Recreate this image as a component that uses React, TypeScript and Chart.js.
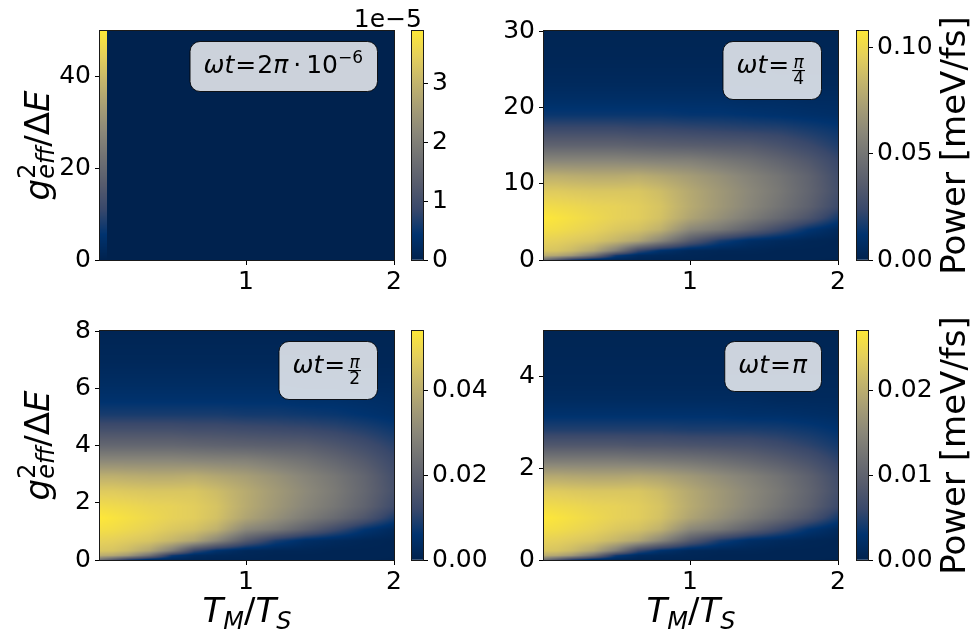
import React, { useEffect, useRef } from 'react';
import { Chart, registerables } from 'chart.js';

Chart.register(...registerables);

// ---------------- data ----------------
// x axis: T_M / T_S, y axis: g_eff^2 / ΔE, colour: power as % of the colour-bar top value
const xRange = [0.013, 2];
const xTicks = [1, 2];

// panel ωt = 2π·10^-6
const xNodesA = [0, 0.058, 0.063, 2.0];
const yNodesA = [50, 40, 30, 20, 10, 0];
const powerPctA = [
  [100, 100, 0, 0],
  [80, 80, 0, 0],
  [60, 60, 0, 0],
  [40, 40, 0, 0],
  [20, 20, 0, 0],
  [0, 0, 0, 0],
];
const yMaxA = 50;
const yTicksA = [0, 20, 40];
const cbarMaxA = 3.89e-5;
const cbarTicksA = [0, 1e-5, 2e-5, 3e-5];

// shared x sampling of the three other panels
const xNodesSim = [0, 0.1, 0.2, 0.35, 0.5, 0.65, 0.8, 1.0, 1.2, 1.4, 1.6, 1.8, 2.0];

// panel ωt = π/4
const yNodesB = [30, 26, 23, 21, 19, 17, 15, 13, 11, 9, 7, 5.5, 4, 2.5, 1.2, 0.6, 0];
const powerPctB = [
  [2, 2, 2, 2, 2, 2, 2, 2, 2, 2, 2, 2, 2],
  [3, 3, 3, 3, 3, 3, 3, 3, 3, 3, 3, 3, 3],
  [5, 5, 5, 5, 5, 5, 5, 5, 5, 5, 4, 4, 4],
  [8, 8, 8, 8, 8, 8, 8, 8, 8, 7, 7, 6, 6],
  [13, 13, 13, 13, 13, 13, 13, 12, 12, 11, 10, 9, 8],
  [24, 24, 24, 24, 24, 23, 23, 22, 21, 20, 19, 16, 13],
  [37, 37, 37, 37, 37, 36, 35, 34, 33, 32, 28, 23, 17],
  [55, 55, 55, 55, 55, 54, 53, 52, 48, 44, 38, 31, 22],
  [75, 75, 74, 73, 73, 74, 71, 66, 60, 53, 46, 37, 25],
  [87, 87, 86, 85, 85, 85, 81, 72, 64, 56, 48, 38, 26],
  [95, 94, 93, 91, 90, 88, 84, 73, 64, 55, 46, 36, 23],
  [100, 98, 96, 93, 90, 88, 83, 70, 60, 50, 40, 29, 15],
  [96, 95, 93, 90, 86, 83, 76, 56, 48, 36, 24, 12, 5],
  [90, 89, 87, 84, 78, 70, 55, 32, 16, 8, 5, 3, 2],
  [85, 84, 80, 70, 50, 22, 10, 4, 3, 3, 2, 2, 2],
  [75, 72, 65, 45, 15, 6, 4, 3, 2, 2, 2, 2, 2],
  [45, 30, 15, 5, 3, 2, 2, 2, 2, 2, 2, 2, 1],
];
const yMaxB = 30;
const yTicksB = [0, 10, 20, 30];
const cbarMaxB = 0.108;
const cbarTicksB = [0, 0.05, 0.1];

// panel ωt = π/2
const yNodesC = [8, 6.93, 6.13, 5.6, 5.07, 4.53, 4.0, 3.47, 2.93, 2.4, 1.87, 1.47, 1.07, 0.67, 0.32, 0.16, 0];
const powerPctC = [
  [2, 2, 2, 2, 2, 2, 2, 2, 2, 2, 2, 2, 2],
  [4, 4, 4, 4, 4, 4, 4, 4, 4, 4, 3, 3, 3],
  [7, 7, 7, 7, 7, 7, 7, 7, 7, 6, 6, 5, 5],
  [10, 10, 10, 10, 10, 10, 10, 10, 10, 9, 9, 8, 7],
  [16, 16, 16, 16, 16, 16, 16, 15, 15, 14, 13, 11, 9],
  [27, 27, 27, 27, 27, 26, 26, 25, 24, 23, 21, 18, 14],
  [39, 39, 39, 39, 39, 38, 37, 36, 35, 34, 30, 25, 19],
  [56, 56, 56, 56, 56, 55, 54, 53, 49, 45, 39, 32, 23],
  [75, 75, 74, 73, 73, 74, 71, 67, 61, 54, 47, 38, 26],
  [87, 87, 86, 85, 85, 85, 81, 73, 65, 57, 49, 39, 27],
  [95, 94, 93, 91, 90, 88, 84, 73, 64, 55, 47, 37, 24],
  [100, 98, 96, 93, 90, 88, 83, 70, 60, 50, 41, 30, 16],
  [96, 95, 93, 90, 86, 83, 76, 56, 48, 36, 24, 12, 5],
  [90, 89, 87, 84, 78, 70, 55, 32, 16, 8, 5, 3, 2],
  [85, 84, 80, 70, 50, 22, 10, 4, 3, 3, 2, 2, 2],
  [75, 72, 65, 45, 15, 6, 4, 3, 2, 2, 2, 2, 2],
  [45, 30, 15, 5, 3, 2, 2, 2, 2, 2, 2, 2, 1],
];
const yMaxC = 8;
const yTicksC = [0, 2, 4, 6, 8];
const cbarMaxC = 0.054;
const cbarTicksC = [0, 0.02, 0.04];

// panel ωt = π
const yNodesD = [5, 4.33, 3.83, 3.5, 3.17, 2.83, 2.5, 2.17, 1.83, 1.5, 1.17, 0.92, 0.67, 0.42, 0.2, 0.1, 0];
const powerPctD = [
  [2, 2, 2, 2, 2, 2, 2, 2, 2, 2, 2, 2, 2],
  [3, 3, 3, 3, 3, 3, 3, 3, 3, 3, 3, 3, 3],
  [4, 4, 4, 4, 4, 4, 4, 4, 4, 4, 4, 4, 4],
  [6, 6, 6, 6, 6, 6, 6, 6, 6, 6, 5, 5, 5],
  [10, 10, 10, 10, 10, 10, 10, 10, 10, 9, 9, 8, 7],
  [18, 18, 18, 18, 18, 18, 18, 17, 17, 17, 16, 14, 11],
  [31, 31, 31, 31, 31, 30, 30, 29, 28, 27, 24, 20, 15],
  [50, 50, 50, 50, 50, 49, 48, 46, 43, 39, 34, 28, 20],
  [72, 72, 71, 70, 70, 71, 69, 64, 58, 52, 45, 36, 25],
  [87, 87, 86, 85, 85, 85, 81, 72, 64, 56, 48, 38, 26],
  [95, 94, 93, 91, 90, 88, 84, 73, 64, 55, 46, 36, 23],
  [100, 98, 96, 93, 90, 88, 83, 70, 60, 50, 40, 29, 15],
  [96, 95, 93, 90, 86, 83, 76, 56, 48, 36, 24, 12, 5],
  [90, 89, 87, 84, 78, 70, 55, 32, 16, 8, 5, 3, 2],
  [85, 84, 80, 70, 50, 22, 10, 4, 3, 3, 2, 2, 2],
  [75, 72, 65, 45, 15, 6, 4, 3, 2, 2, 2, 2, 2],
  [45, 30, 15, 5, 3, 2, 2, 2, 2, 2, 2, 2, 1],
];
const yMaxD = 5;
const yTicksD = [0, 2, 4];
const cbarMaxD = 0.027;
const cbarTicksD = [0, 0.01, 0.02];

// cividis colour map stops
const CIVIDIS = [
  [0, 34, 78], [0, 51, 111], [57, 72, 107], [87, 92, 109], [112, 113, 115],
  [138, 135, 121], [166, 157, 117], [196, 181, 108], [228, 207, 91], [254, 232, 56],
];

// ---------------- layout ----------------
const PAGE_W = 975;
const PAGE_H = 636;
const FONT = "'DejaVu Sans', 'Liberation Sans', sans-serif";
const TICK_SIZE = 25;
const LABEL_SIZE = 34;
const SUB_SIZE = 24;
const BOX_SIZE = 25;
const X_AXIS_H = 40;
const Y_AXIS_W = 100;
const CB_AXIS_W = 80;

type Seg = {
  t?: string; size?: number; it?: boolean; dy?: number; gap?: number;
  sup?: Seg; sub?: Seg; num?: Seg; den?: Seg;
};

const it = (t: string, size: number, extra: Partial<Seg> = {}): Seg => ({ t, size, it: true, ...extra });
const up = (t: string, size: number, extra: Partial<Seg> = {}): Seg => ({ t, size, it: false, ...extra });

const yTitleSegs: Seg[] = [
  it('g', LABEL_SIZE),
  { sup: up('2', SUB_SIZE, { dy: -14 }), sub: it('eff', SUB_SIZE, { dy: 5 }) },
  up('/', LABEL_SIZE),
  up('Δ', LABEL_SIZE),
  it('E', LABEL_SIZE),
];
const xTitleSegs: Seg[] = [
  it('T', LABEL_SIZE), it('M', SUB_SIZE, { dy: 7 }), up('/', LABEL_SIZE), it('T', LABEL_SIZE), it('S', SUB_SIZE, { dy: 7 }),
];
const labelA: Seg[] = [
  it('ω', BOX_SIZE), it('t', BOX_SIZE), up('=', BOX_SIZE, { gap: 1 }), up('2', BOX_SIZE), it('π', BOX_SIZE),
  up('·', BOX_SIZE, { gap: 5 }), up('10', BOX_SIZE), up('−6', 17, { dy: -10 }),
];
const labelB: Seg[] = [
  it('ω', BOX_SIZE), it('t', BOX_SIZE), up('=', BOX_SIZE, { gap: 1 }), { num: it('π', 17), den: up('4', 17), gap: 1 },
];
const labelC: Seg[] = [
  it('ω', BOX_SIZE), it('t', BOX_SIZE), up('=', BOX_SIZE, { gap: 1 }), { num: it('π', 17), den: up('2', 17), gap: 1 },
];
const labelD: Seg[] = [it('ω', BOX_SIZE), it('t', BOX_SIZE), up('=', BOX_SIZE, { gap: 1 }), it('π', BOX_SIZE)];

type Panel = {
  xs: number[]; ys: number[]; rows: number[][]; yMax: number; yTicks: number[];
  cbarMax: number; cbarTicks: number[]; cbarFmt: (v: number) => string; offsetText?: string;
  label: Seg[]; area: { l: number; r: number; t: number; b: number }; cb: { l: number; r: number };
  yTitle: boolean; xTitle: boolean; power: boolean;
};

const panels: Panel[] = [
  {
    xs: xNodesA, ys: yNodesA, rows: powerPctA, yMax: yMaxA, yTicks: yTicksA,
    cbarMax: cbarMaxA, cbarTicks: cbarTicksA, cbarFmt: (v) => String(Math.round(v / 1e-5)), offsetText: '1e−5',
    label: labelA, area: { l: 100, r: 394, t: 31, b: 260 }, cb: { l: 412, r: 423 },
    yTitle: true, xTitle: false, power: false,
  },
  {
    xs: xNodesSim, ys: yNodesB, rows: powerPctB, yMax: yMaxB, yTicks: yTicksB,
    cbarMax: cbarMaxB, cbarTicks: cbarTicksB, cbarFmt: (v) => v.toFixed(2),
    label: labelB, area: { l: 544, r: 838, t: 31, b: 260 }, cb: { l: 857, r: 868 },
    yTitle: false, xTitle: false, power: true,
  },
  {
    xs: xNodesSim, ys: yNodesC, rows: powerPctC, yMax: yMaxC, yTicks: yTicksC,
    cbarMax: cbarMaxC, cbarTicks: cbarTicksC, cbarFmt: (v) => v.toFixed(2),
    label: labelC, area: { l: 100, r: 394, t: 331, b: 560 }, cb: { l: 412, r: 423 },
    yTitle: true, xTitle: true, power: false,
  },
  {
    xs: xNodesSim, ys: yNodesD, rows: powerPctD, yMax: yMaxD, yTicks: yTicksD,
    cbarMax: cbarMaxD, cbarTicks: cbarTicksD, cbarFmt: (v) => v.toFixed(2),
    label: labelD, area: { l: 544, r: 838, t: 331, b: 560 }, cb: { l: 857, r: 868 },
    yTitle: false, xTitle: true, power: true,
  },
];

// ---------------- helpers ----------------
function cividis(t: number): number[] {
  const c = Math.max(0, Math.min(1, t)) * (CIVIDIS.length - 1);
  const i = Math.min(CIVIDIS.length - 2, Math.floor(c));
  const f = c - i;
  const a = CIVIDIS[i], b = CIVIDIS[i + 1];
  return [a[0] + (b[0] - a[0]) * f, a[1] + (b[1] - a[1]) * f, a[2] + (b[2] - a[2]) * f];
}

function sampleGrid(p: Panel, xv: number, yv: number): number {
  const xs = p.xs, ys = p.ys;
  let i = 0;
  while (i < xs.length - 2 && xv > xs[i + 1]) i++;
  let fx = (xv - xs[i]) / (xs[i + 1] - xs[i]);
  fx = Math.max(0, Math.min(1, fx));
  let j = 0;
  while (j < ys.length - 2 && yv < ys[j + 1]) j++;
  let fy = (ys[j] - yv) / (ys[j] - ys[j + 1]);
  fy = Math.max(0, Math.min(1, fy));
  const r0 = p.rows[j], r1 = p.rows[j + 1];
  const top = r0[i] * (1 - fx) + r0[i + 1] * fx;
  const bot = r1[i] * (1 - fx) + r1[i + 1] * fx;
  return top * (1 - fy) + bot * fy;
}

const fnt = (s: Seg) => `${s.it ? 'italic ' : ''}${s.size}px ${FONT}`;

function measureSeg(ctx: CanvasRenderingContext2D, s: Seg): number {
  const g = s.gap || 0;
  if (s.num && s.den) {
    ctx.font = fnt(s.num);
    const a = ctx.measureText(s.num.t!).width;
    ctx.font = fnt(s.den);
    const b = ctx.measureText(s.den.t!).width;
    return Math.max(a, b) + 4 + 2 * g;
  }
  if (s.sup || s.sub) {
    let w = 0;
    for (const q of [s.sup, s.sub]) {
      if (!q) continue;
      ctx.font = fnt(q);
      w = Math.max(w, ctx.measureText(q.t!).width);
    }
    return w + 2 * g;
  }
  ctx.font = fnt(s);
  return ctx.measureText(s.t!).width + 2 * g;
}

function drawSeg(ctx: CanvasRenderingContext2D, s: Seg, x: number): number {
  const g = s.gap || 0;
  const w = measureSeg(ctx, s);
  if (s.num && s.den) {
    const inner = w - 2 * g;
    const cx = x + g + inner / 2;
    ctx.fillRect(x + g + 1, -3, inner - 2, 1.1);
    ctx.textAlign = 'center';
    ctx.font = fnt(s.num);
    ctx.fillText(s.num.t!, cx, -5);
    ctx.font = fnt(s.den);
    ctx.fillText(s.den.t!, cx, 11);
    ctx.textAlign = 'left';
  } else if (s.sup || s.sub) {
    for (const q of [s.sup, s.sub]) {
      if (!q) continue;
      ctx.font = fnt(q);
      ctx.fillText(q.t!, x + g, q.dy || 0);
    }
  } else {
    ctx.font = fnt(s);
    ctx.fillText(s.t!, x + g, s.dy || 0);
  }
  return w;
}

function richWidth(ctx: CanvasRenderingContext2D, segs: Seg[]) {
  return segs.reduce((a, s) => a + measureSeg(ctx, s), 0);
}

function drawRich(ctx: CanvasRenderingContext2D, segs: Seg[], cx: number, baseY: number, rot = 0) {
  ctx.save();
  ctx.translate(cx, baseY);
  if (rot) ctx.rotate(rot);
  ctx.fillStyle = '#000';
  ctx.textBaseline = 'alphabetic';
  ctx.textAlign = 'left';
  const total = richWidth(ctx, segs);
  let x = -total / 2;
  for (const s of segs) x += drawSeg(ctx, s, x);
  ctx.restore();
}

function roundRect(ctx: CanvasRenderingContext2D, x: number, y: number, w: number, h: number, r: number) {
  ctx.beginPath();
  ctx.moveTo(x + r, y);
  ctx.lineTo(x + w - r, y);
  ctx.arcTo(x + w, y, x + w, y + r, r);
  ctx.lineTo(x + w, y + h - r);
  ctx.arcTo(x + w, y + h, x + w - r, y + h, r);
  ctx.lineTo(x + r, y + h);
  ctx.arcTo(x, y + h, x, y + h - r, r);
  ctx.lineTo(x, y + r);
  ctx.arcTo(x, y, x + r, y, r);
  ctx.closePath();
}

// ---------------- chart configs ----------------
function heatPlugin(p: Panel) {
  return {
    id: 'heatmap',
    beforeDatasetsDraw(chart: any) {
      const { ctx, chartArea: a, scales } = chart;
      const xs = scales.x, ys = scales.y;
      const w = Math.round(a.right - a.left), h = Math.round(a.bottom - a.top);
      const off = document.createElement('canvas');
      off.width = w;
      off.height = h;
      const octx = off.getContext('2d')!;
      const img = octx.createImageData(w, h);
      for (let py = 0; py < h; py++) {
        const yv = ys.getValueForPixel(a.top + py + 0.5);
        for (let px = 0; px < w; px++) {
          const xv = xs.getValueForPixel(a.left + px + 0.5);
          const c = cividis(sampleGrid(p, xv, yv) / 100);
          const k = (py * w + px) * 4;
          img.data[k] = c[0];
          img.data[k + 1] = c[1];
          img.data[k + 2] = c[2];
          img.data[k + 3] = 255;
        }
      }
      octx.putImageData(img, 0, 0);
      ctx.drawImage(off, a.left, a.top);
    },
  };
}

function decorPlugin(p: Panel) {
  return {
    id: 'decor',
    afterDraw(chart: any) {
      const { ctx, chartArea: a } = chart;
      ctx.save();
      // frame
      ctx.strokeStyle = '#1a1a1a';
      ctx.lineWidth = 1;
      ctx.strokeRect(a.left - 0.5, a.top - 0.5, a.right - a.left + 1, a.bottom - a.top + 1);
      // annotation box
      const hasFrac = p.label.some((s) => s.num);
      const tw = richWidth(ctx, p.label);
      const bw = tw + 28;
      const bh = hasFrac ? 58 : 50;
      const bx = a.right - 17 - bw;
      const by = a.top + 10;
      roundRect(ctx, bx + 0.5, by + 0.5, bw, bh, 10);
      ctx.fillStyle = 'rgba(255,255,255,0.8)';
      ctx.fill();
      ctx.strokeStyle = 'rgba(0,0,0,0.85)';
      ctx.stroke();
      drawRich(ctx, p.label, bx + bw / 2, by + 32);
      // axis titles
      if (p.yTitle) drawRich(ctx, yTitleSegs, a.left - 51, (a.top + a.bottom) / 2, -Math.PI / 2);
      if (p.xTitle) drawRich(ctx, xTitleSegs, (a.left + a.right) / 2, a.bottom + 62);
      ctx.restore();
    },
  };
}

const tickFont = { family: FONT, size: TICK_SIZE };

function mainConfig(p: Panel): any {
  const nodes: { x: number; y: number }[] = [];
  p.ys.forEach((y) => p.xs.forEach((x) => nodes.push({ x, y })));
  return {
    type: 'scatter',
    data: { datasets: [{ data: nodes, pointRadius: 0, pointHoverRadius: 0 }] },
    options: {
      responsive: false,
      animation: false,
      devicePixelRatio: 1,
      events: [],
      layout: {
        padding: {
          left: p.area.l - Y_AXIS_W,
          right: PAGE_W - p.area.r,
          top: p.area.t,
          bottom: PAGE_H - p.area.b - X_AXIS_H,
        },
      },
      plugins: { legend: { display: false }, tooltip: { enabled: false } },
      scales: {
        x: {
          type: 'linear',
          min: xRange[0],
          max: xRange[1],
          afterBuildTicks: (ax: any) => { ax.ticks = xTicks.map((value) => ({ value })); },
          afterFit: (s: any) => { s.height = X_AXIS_H; },
          grid: { drawOnChartArea: false, drawTicks: true, tickLength: 5, color: '#000' },
          border: { display: false },
          ticks: { color: '#000', font: tickFont, padding: 2, maxRotation: 0, autoSkip: false },
        },
        y: {
          type: 'linear',
          min: 0,
          max: p.yMax,
          afterBuildTicks: (ax: any) => { ax.ticks = p.yTicks.map((value) => ({ value })); },
          afterFit: (s: any) => { s.width = Y_AXIS_W; },
          grid: { drawOnChartArea: false, drawTicks: true, tickLength: 5, color: '#000' },
          border: { display: false },
          ticks: { color: '#000', font: tickFont, padding: 4, autoSkip: false },
        },
      },
    },
    plugins: [heatPlugin(p), decorPlugin(p)],
  };
}

function cbarDecor(p: Panel) {
  return {
    id: 'cbarDecor',
    afterDraw(chart: any) {
      const { ctx, chartArea: a } = chart;
      ctx.save();
      ctx.strokeStyle = '#1a1a1a';
      ctx.lineWidth = 1;
      ctx.strokeRect(a.left - 0.5, a.top - 0.5, a.right - a.left + 1, a.bottom - a.top + 1);
      ctx.fillStyle = '#000';
      if (p.offsetText) {
        ctx.font = `${TICK_SIZE}px ${FONT}`;
        ctx.textAlign = 'right';
        ctx.textBaseline = 'alphabetic';
        ctx.fillText(p.offsetText, a.right - 1, a.top - 4);
      }
      if (p.power) {
        drawRich(ctx, [up('Power [meV/fs]', LABEL_SIZE)], a.right + 97, (a.top + a.bottom) / 2, -Math.PI / 2);
      }
      ctx.restore();
    },
  };
}

function cbarConfig(p: Panel): any {
  return {
    type: 'bar',
    data: {
      labels: [''],
      datasets: [{
        data: [p.cbarMax],
        borderWidth: 0,
        barPercentage: 1,
        categoryPercentage: 1,
        backgroundColor: (c: any) => {
          const { ctx, chartArea } = c.chart;
          if (!chartArea) return '#00224e';
          const y0 = c.chart.scales.y.getPixelForValue(0);
          const y1 = c.chart.scales.y.getPixelForValue(p.cbarMax);
          const g = ctx.createLinearGradient(0, y0, 0, y1);
          CIVIDIS.forEach((col, k) => g.addColorStop(k / (CIVIDIS.length - 1), `rgb(${col[0]},${col[1]},${col[2]})`));
          return g;
        },
      }],
    },
    options: {
      responsive: false,
      animation: false,
      devicePixelRatio: 1,
      events: [],
      layout: {
        padding: {
          left: p.cb.l,
          right: PAGE_W - p.cb.r - CB_AXIS_W,
          top: p.area.t,
          bottom: PAGE_H - p.area.b,
        },
      },
      plugins: { legend: { display: false }, tooltip: { enabled: false } },
      scales: {
        x: { display: false },
        y: {
          position: 'right',
          min: 0,
          max: p.cbarMax,
          afterBuildTicks: (ax: any) => { ax.ticks = p.cbarTicks.map((value) => ({ value })); },
          afterFit: (s: any) => { s.width = CB_AXIS_W; },
          grid: { drawOnChartArea: false, drawTicks: true, tickLength: 5, color: '#000' },
          border: { display: false },
          ticks: { color: '#000', font: tickFont, padding: 4, autoSkip: false, callback: (v: number) => p.cbarFmt(v) },
        },
      },
    },
    plugins: [cbarDecor(p)],
  };
}

// ---------------- components ----------------
function Layer({ make }: { make: () => any }) {
  const ref = useRef<HTMLCanvasElement | null>(null);
  useEffect(() => {
    if (!ref.current) return;
    const chart = new Chart(ref.current, make());
    return () => chart.destroy();
  }, [make]);
  return (
    <canvas
      ref={ref}
      width={PAGE_W}
      height={PAGE_H}
      style={{ position: 'absolute', left: 0, top: 0, width: PAGE_W, height: PAGE_H }}
    />
  );
}

const makers = panels.flatMap((p) => [() => mainConfig(p), () => cbarConfig(p)]);

export default function App() {
  return (
    <div style={{ position: 'fixed', left: 0, top: 0, width: PAGE_W, height: PAGE_H, background: '#fff', overflow: 'hidden' }}>
      {makers.map((m, i) => (
        <Layer key={i} make={m} />
      ))}
    </div>
  );
}
